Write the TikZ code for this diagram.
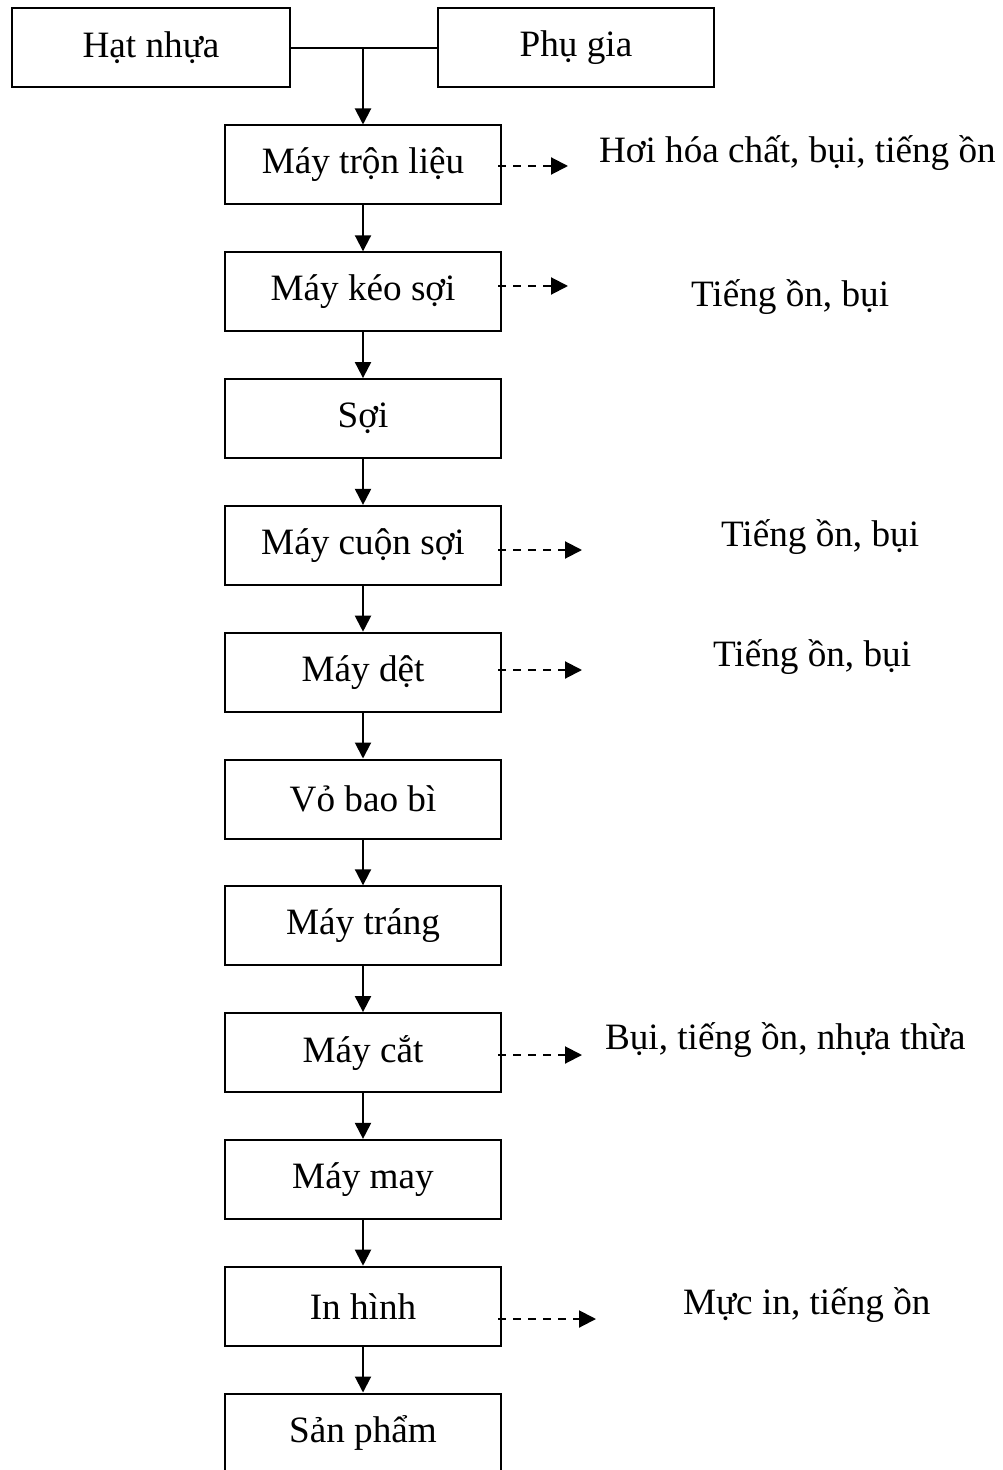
\documentclass[tikz,border=0pt]{standalone}
\usepackage{fontspec}
\setmainfont{Liberation Serif}
\usetikzlibrary{positioning,arrows.meta}
\begin{document}
\begin{tikzpicture}[x=0.5pt, y=-0.5pt, line width=1pt,
    font=\fontsize{18.6}{22}\selectfont,
    box/.style={draw, rectangle, minimum width=138pt, minimum height=39.5pt, inner sep=0pt},
    flow/.style={-{Triangle[length=8pt,width=8pt]}},
    waste/.style={dash pattern=on 4pt off 3.5pt, shorten <=-2pt, -{Triangle[length=8.5pt,width=8.5pt]}},
    note/.style={anchor=base west, inner sep=0pt},
    node distance=22.9pt]
\useasboundingbox (0,0) rectangle (1002,1470);
\clip (0,0) rectangle (1002,1470);

    % Nguyen lieu
 \node[box, minimum width=139pt] (hat) at (151,48) {Hạt nhựa};
 \node[box] (phugia) at (576,48) {Phụ gia};

    % Day chuyen san xuat
 \node[box] (tron) at (363,165) {Máy trộn liệu};
 \node[box, below=of tron] (keo) {Máy kéo sợi};
 \node[box, below=of keo] (soi) {Sợi};
 \node[box, below=of soi] (cuon) {Máy cuộn sợi};
 \node[box, below=of cuon] (det) {Máy dệt};
 \node[box, below=of det] (vo) {Vỏ bao bì};
 \node[box, below=of vo] (trang) {Máy tráng};
 \node[box, below=of trang] (cat) {Máy cắt};
 \node[box, below=of cat] (may) {Máy may};
 \node[box, below=of may] (inhinh) {In hình};
 \node[box, below=of inhinh] (sanpham) {Sản phẩm};

 \draw (hat) -- (phugia);
 \draw[flow] (hat -| tron) -- (tron);
 \foreach \a/\b in {tron/keo, keo/soi, soi/cuon, cuon/det, det/vo,
                    vo/trang, trang/cat, cat/may, may/inhinh, inhinh/sanpham}
    \draw[flow] (\a) -- (\b);

    % Chat thai
 \coordinate (e1) at (568,166);
 \coordinate (e2) at (568,286);
 \coordinate (e4) at (582,550);
 \coordinate (e5) at (582,670);
 \coordinate (e8) at (582,1055);
 \coordinate (e10) at (596,1319);

 \node[note] (c1) at (598,163) {Hơi hóa chất, bụi, tiếng ồn};
 \node[note] (c2) at (690,307) {Tiếng ồn, bụi};
 \node[note] (c4) at (720,546) {Tiếng ồn, bụi};
 \node[note] (c5) at (712,666) {Tiếng ồn, bụi};
 \node[note] (c8) at (604,1049) {Bụi, tiếng ồn, nhựa thừa};
 \node[note] (c10) at (682,1314) {Mực in, tiếng ồn};

 \foreach \a/\b in {tron/e1, keo/e2, cuon/e4, det/e5, cat/e8, inhinh/e10}
    \draw[waste] (\a.east |- \b) -- (\b);
\end{tikzpicture}
\end{document}
